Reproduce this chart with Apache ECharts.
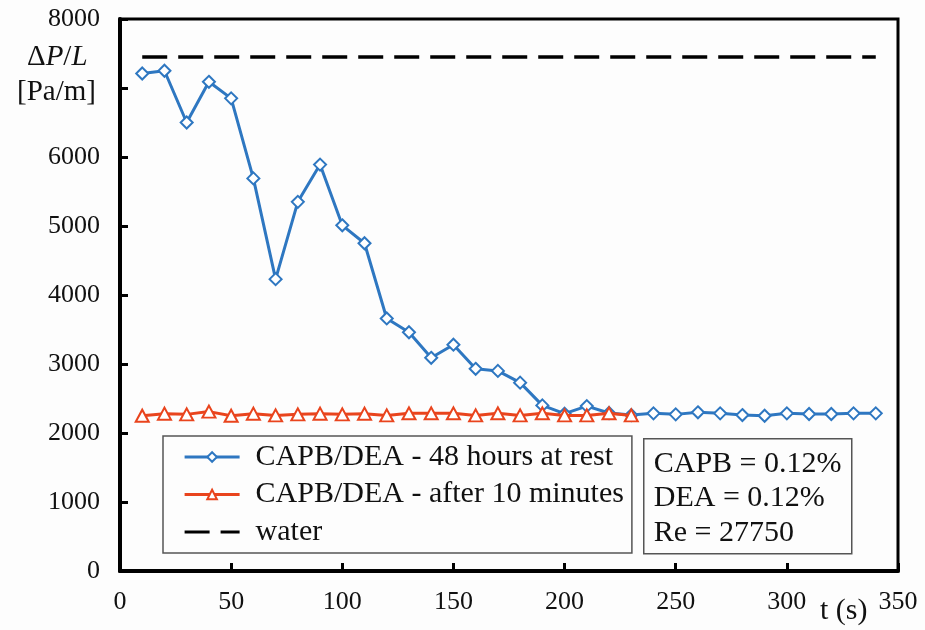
<!DOCTYPE html>
<html>
<head>
<meta charset="utf-8">
<style>
  html, body { margin: 0; padding: 0; background: #fdfdfd; }
  #chart { width: 925px; height: 630px; }
</style>
<script src="https://cdn.jsdelivr.net/npm/echarts@6/dist/echarts.min.js"></script>
</head>
<body>
<div id="chart"></div>
<script>
  const restTimes = [10, 20, 30, 40, 50, 60, 70, 80, 90, 100, 110, 120, 130, 140, 150, 160, 170,
    180, 190, 200, 210, 220, 230, 240, 250, 260, 270, 280, 290, 300, 310, 320, 330, 340];
  const restValues = [7210, 7250, 6500, 7090, 6850, 5690, 4230, 5350, 5890, 5010, 4750, 3660, 3460,
    3090, 3280, 2930, 2900, 2730, 2400, 2280, 2390, 2290, 2260, 2285, 2270, 2300, 2285, 2260, 2250,
    2285, 2275, 2275, 2285, 2285];
  const afterTimes = [10, 20, 30, 40, 50, 60, 70, 80, 90, 100, 110, 120, 130, 140, 150, 160, 170,
    180, 190, 200, 210, 220, 230];
  const afterValues = [2250, 2280, 2270, 2310, 2250, 2280, 2255, 2270, 2280, 2270, 2280, 2255, 2285,
    2285, 2285, 2255, 2285, 2255, 2285, 2255, 2255, 2285, 2255];
  const waterTimes = [10, 340];
  const waterValues = [7450, 7450];
  const seriesNames = ['CAPB/DEA - 48 hours at rest', 'CAPB/DEA - after 10 minutes', 'water'];
  const noteLines = ['CAPB = 0.12%', 'DEA = 0.12%', 'Re = 27750'];

  const serif = 'Liberation Serif';
  const blue = '#2e77c1';
  const red = '#e9441d';

  function pairs(xs, ys) {
    return xs.map((x, i) => [x, ys[i]]);
  }

  const chart = echarts.init(document.getElementById('chart'));

  chart.setOption({
    animation: false,
    backgroundColor: '#fdfdfd',
    textStyle: { fontFamily: serif },
    grid: {
      left: 120,
      right: 27,
      top: 19,
      bottom: 59,
      show: true,
      borderColor: '#000',
      borderWidth: 3,
      backgroundColor: 'transparent',
    },
    xAxis: {
      type: 'value',
      min: 0,
      max: 350,
      interval: 50,
      axisLine: { lineStyle: { color: '#000', width: 4 } },
      axisTick: { inside: true, length: 8, lineStyle: { color: '#000', width: 3 } },
      axisLabel: { color: '#111', fontFamily: serif, fontSize: 26, margin: 18 },
      splitLine: { show: false },
    },
    yAxis: {
      type: 'value',
      min: 0,
      max: 8000,
      interval: 1000,
      axisLine: { show: true, lineStyle: { color: '#000', width: 4 } },
      axisTick: { show: true, inside: true, length: 8, lineStyle: { color: '#000', width: 3 } },
      axisLabel: {
        color: '#111',
        fontFamily: serif,
        fontSize: 26,
        margin: 20,
        formatter: (v) => (v === 7000 ? '' : String(v)),
      },
      splitLine: { show: false },
    },
    legend: {
      orient: 'vertical',
      left: 163,
      top: 436,
      data: [
        seriesNames[0],
        seriesNames[1],
        { name: seriesNames[2], itemStyle: { opacity: 0 } },
      ],
      backgroundColor: '#fdfdfd',
      borderColor: '#555',
      borderWidth: 1.5,
      padding: [6, 8, 6, 20],
      itemGap: 7.5,
      itemWidth: 55,
      itemHeight: 12,
      lineStyle: { width: 3.2 },
      textStyle: {
        color: '#111',
        fontFamily: serif,
        fontSize: 30,
        lineHeight: 30,
        padding: [0, 0, 0, 11],
      },
    },
    series: [
      {
        name: seriesNames[0],
        type: 'line',
        data: pairs(restTimes, restValues),
        symbol: 'diamond',
        symbolSize: [12, 12],
        color: blue,
        lineStyle: { color: blue, width: 3 },
        itemStyle: { color: '#fff', borderColor: blue, borderWidth: 2 },
        z: 3,
      },
      {
        name: seriesNames[1],
        type: 'line',
        data: pairs(afterTimes, afterValues),
        symbol: 'triangle',
        symbolSize: [13, 12],
        color: red,
        lineStyle: { color: red, width: 3 },
        itemStyle: { color: '#fff', borderColor: red, borderWidth: 2 },
        z: 4,
      },
      {
        name: seriesNames[2],
        type: 'line',
        data: pairs(waterTimes, waterValues),
        symbol: 'none',
        color: '#000',
        lineStyle: { color: '#000', width: 3.5, type: [25, 11] },
        z: 2,
      },
    ],
    graphic: [
      {
        type: 'text',
        left: 27,
        top: 43,
        style: {
          text: '{n|Δ}{i|P}{n|/}{i|L}',
          rich: {
            n: { fontFamily: serif, fontSize: 29, fill: '#111' },
            i: { fontFamily: serif, fontSize: 29, fontStyle: 'italic', fill: '#111' },
          },
        },
      },
      {
        type: 'text',
        left: 17,
        top: 78,
        style: { text: '[Pa/m]', fontFamily: serif, fontSize: 29, fill: '#111' },
      },
      {
        type: 'text',
        left: 820,
        top: 596,
        style: { text: 't (s)', fontFamily: serif, fontSize: 30, fill: '#111' },
      },
      {
        type: 'group',
        left: 643,
        top: 438,
        children: [
          {
            type: 'rect',
            shape: { x: 0, y: 0, width: 208, height: 115 },
            style: { fill: '#fdfdfd', stroke: '#555', lineWidth: 1.5 },
          },
          {
            type: 'text',
            x: 10,
            y: 8,
            style: {
              text: noteLines.join('\n'),
              fontFamily: serif,
              fontSize: 30,
              lineHeight: 34.5,
              fill: '#111',
            },
          },
        ],
      },
    ],
  });

  window.addEventListener('resize', () => chart.resize());
</script>
</body>
</html>
